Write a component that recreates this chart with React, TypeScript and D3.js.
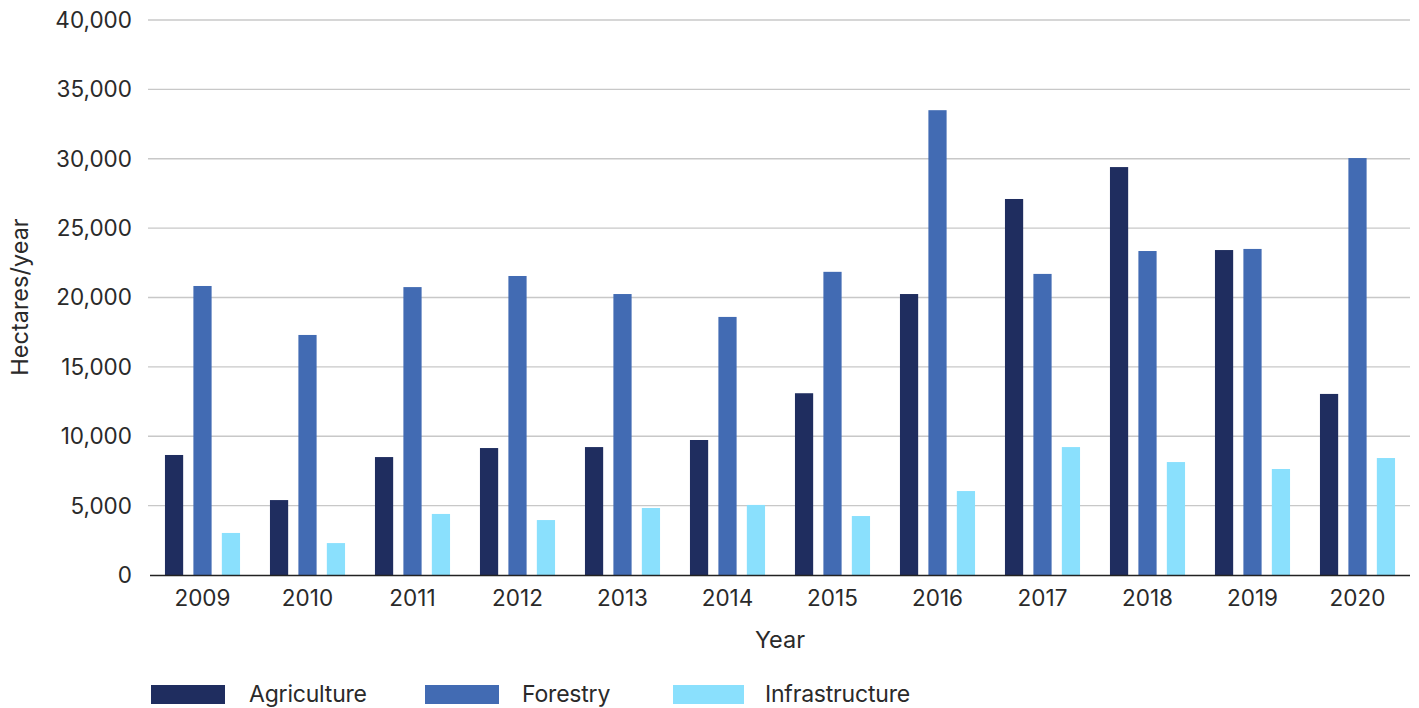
import React from "react";
import * as d3 from "d3";

const years = ["2009","2010","2011","2012","2013","2014","2015","2016","2017","2018","2019","2020"];
const agriculture = [8650, 5400, 8500, 9150, 9220, 9730, 13100, 20250, 27100, 29400, 23420, 13050];
const forestry = [20830, 17300, 20750, 21550, 20250, 18600, 21850, 33500, 21700, 23350, 23500, 30050];
const infrastructure = [3030, 2300, 4400, 3960, 4830, 5050, 4250, 6050, 9220, 8140, 7640, 8430];
const seriesNames = ["Agriculture", "Forestry", "Infrastructure"];
const seriesColors = ["#1f2d5f", "#426bb3", "#8ae0fd"];
const yTicks = [0, 5000, 10000, 15000, 20000, 25000, 30000, 35000, 40000];

const W = 1419, H = 708;
const left = 150, right = 1410, top = 20, bottom = 575;

export default function App() {
  const series = [agriculture, forestry, infrastructure];
  const x = d3.scaleBand<string>().domain(years).range([left, right]).paddingInner(0.285).paddingOuter(0.1425);
  const xi = d3.scaleBand<number>().domain([0, 1, 2]).range([0, x.bandwidth()]).paddingInner(0.36).paddingOuter(0);
  const y = d3.scaleLinear().domain([0, 40000]).range([bottom, top]);
  const fmt = d3.format(",");
  const font = "Inter, 'Noto Sans', sans-serif";
  const legendLayout = [
    { x: 151, w: 74, tx: 249 },
    { x: 425, w: 74, tx: 522 },
    { x: 673, w: 71, tx: 765 },
  ];
  return (
    <svg width={W} height={H} style={{ position: "absolute", left: 0, top: 0, background: "#fff" }} fontFamily={font}>
      {yTicks.map(t => (
        <g key={t}>
          {t > 0 && <line x1={left - 2} x2={right} y1={y(t)} y2={y(t)} stroke="#c8c8c8" strokeWidth={1.3} />}
          <text x={132} y={y(t)} dy="0.35em" textAnchor="end" fontSize={22.5} fill="#2a2a2a">{fmt(t)}</text>
        </g>
      ))}
      {years.map((yr, i) => (
        <g key={yr} transform={`translate(${x(yr)},0)`}>
          {series.map((s, k) => (
            <rect key={k} x={xi(k)} y={y(s[i])} width={xi.bandwidth()} height={bottom - y(s[i])} fill={seriesColors[k]} />
          ))}
          <text x={x.bandwidth() / 2} y={606} textAnchor="middle" fontSize={22.5} fill="#2a2a2a">{yr}</text>
        </g>
      ))}
      <line x1={left} x2={right} y1={bottom + 0.5} y2={bottom + 0.5} stroke="#222" strokeWidth={1.5} />
      <text x={780} y={648} textAnchor="middle" fontSize={23.5} fill="#2a2a2a">Year</text>
      <text transform={`translate(28,297) rotate(-90)`} textAnchor="middle" fontSize={23.5} fill="#2a2a2a">Hectares/year</text>
      {seriesNames.map((n, k) => (
        <g key={n}>
          <rect x={legendLayout[k].x} y={685} width={legendLayout[k].w} height={19} fill={seriesColors[k]} />
          <text x={legendLayout[k].tx} y={702} fontSize={23} fill="#2a2a2a" letterSpacing={-0.2}>{n}</text>
        </g>
      ))}
    </svg>
  );
}
